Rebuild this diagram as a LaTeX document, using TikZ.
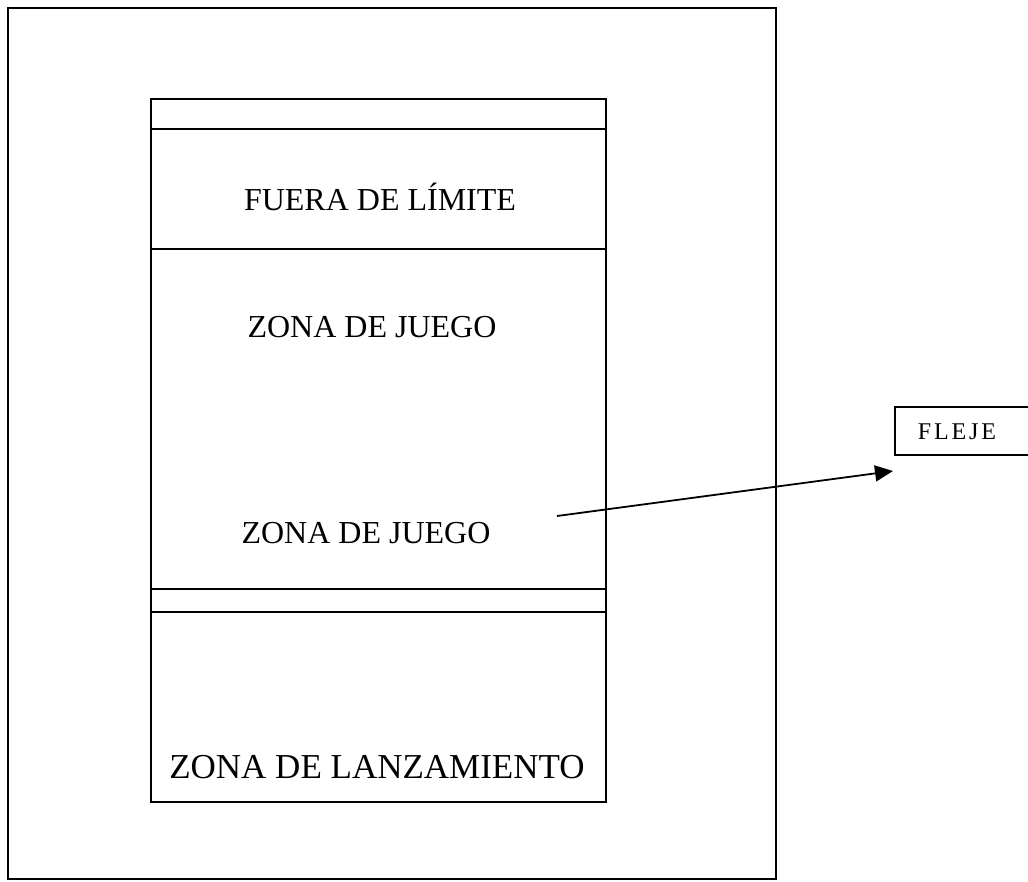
\documentclass[tikz,border=0pt]{standalone}
\usepackage{fontspec}
\setmainfont{Liberation Serif}
\newfontfamily\flejefont[LetterSpace=12]{Liberation Serif}
\usetikzlibrary{arrows.meta}
\begin{document}
\begin{tikzpicture}[x=1pt,y=-1pt,line width=1.3pt,
  lbl/.style={font=\fontsize{32}{38}\selectfont,inner sep=0pt},
  biglbl/.style={font=\fontsize{35}{42}\selectfont,inner sep=0pt},
  flbl/.style={font=\flejefont\fontsize{24}{28}\selectfont,inner sep=0pt},
  pointer/.style={line width=1.8pt,-{Triangle[length=18pt,width=16pt]}}]
\useasboundingbox (0,0) rectangle (1028,881);
% outer frame
\draw (8,8) rectangle (776,879);
% court
\draw (151,99) rectangle (606,802);
\draw (151,129) -- (606,129);
\draw (151,249) -- (606,249);
\draw (151,589) -- (606,589);
\draw (151,612) -- (606,612);
% labels
\node[lbl] (fuera) at (380,197) {FUERA DE LÍMITE};
\node[lbl] (juego1) at (372,327) {ZONA DE JUEGO};
\node[lbl] (juego2) at (366,533) {ZONA DE JUEGO};
\node[biglbl] (lanz) at (377,767) {ZONA DE LANZAMIENTO};
% fleje box
\draw (1030,407) -| (895,455) -- (1030,455);
\node[flbl] (fleje) at (957,432) {FLEJE};
\coordinate (s) at (557,516);
\coordinate (t) at (893,471);
\draw[pointer] (s) -- (t);
\end{tikzpicture}
\end{document}
